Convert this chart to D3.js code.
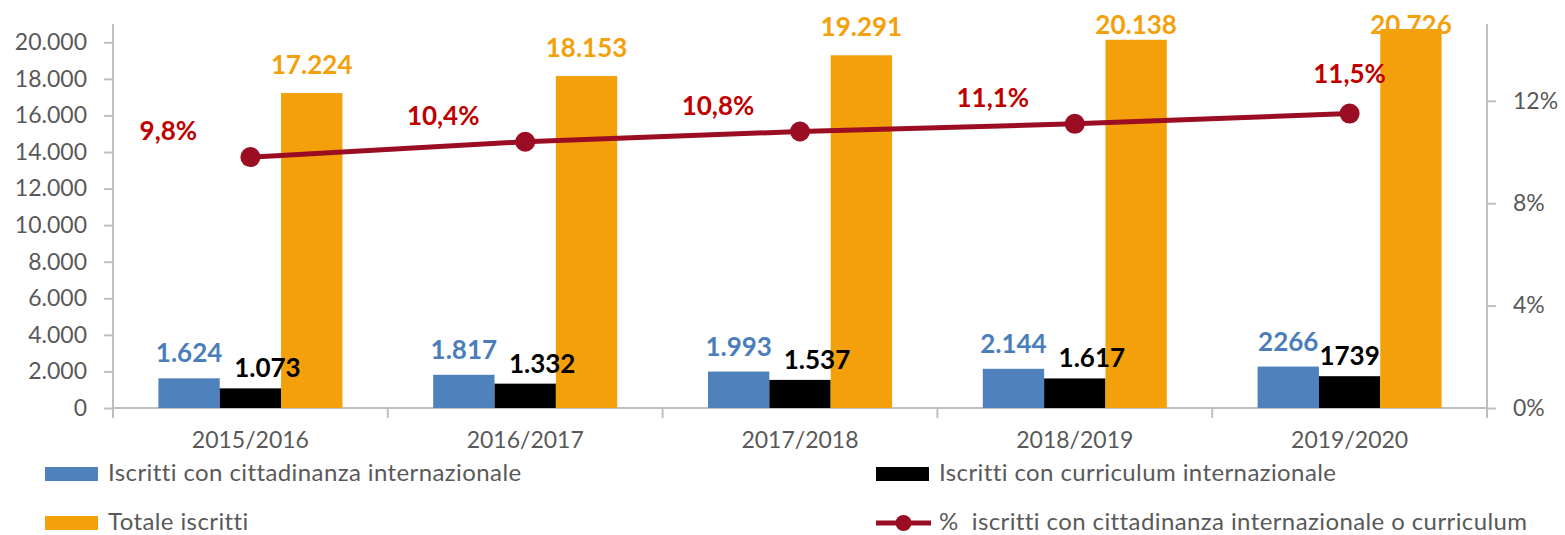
<!DOCTYPE html>
<html lang="it">
<head>
<meta charset="UTF-8">
<title>Iscritti internazionali</title>
<script src="https://d3js.org/d3.v7.min.js"></script>
<style>
    body {margin: 0; background: #fff;}
    text {font-family: Lato, "Open Sans", sans-serif;}
</style>
</head>
<body>
<div id="chart"></div>
<script>
// Data
var years = ["2015/2016", "2016/2017", "2017/2018", "2018/2019", "2019/2020"];
var cittadinanza = [1624, 1817, 1993, 2144, 2266];
var curriculum = [1073, 1332, 1537, 1617, 1739];
var totale = [17224, 18153, 19291, 20138, 20726];
var percentuale = [9.8, 10.4, 10.8, 11.1, 11.5];
var cittadinanzaLabels = ["1.624", "1.817", "1.993", "2.144", "2266"];
var curriculumLabels = ["1.073", "1.332", "1.537", "1.617", "1739"];
var totaleLabels = ["17.224", "18.153", "19.291", "20.138", "20.726"];
var percentLabels = ["9,8%", "10,4%", "10,8%", "11,1%", "11,5%"];
var leftTicks = [0, 2000, 4000, 6000, 8000, 10000, 12000, 14000, 16000, 18000, 20000];
var rightTicks = [0, 4, 8, 12];

var width = 1565, height = 535;
var plotLeft = 113, plotRight = 1487, plotTop = 24, plotBottom = 408;
var axisColor = "#bfbfbf", textColor = "#595959";
var blue = "#4f81bd", orange = "#f4a00a", dark = "#000000", red = "#9b0d23", redText = "#c00000";

var svg = d3.select("#chart").append("svg")
    .attr("width", width)
    .attr("height", height);

// Scales
var x = d3.scaleBand().domain(years).range([plotLeft, plotRight]).padding(0);
var series = ["cittadinanza", "curriculum", "totale"];
var xInner = d3.scaleBand().domain(series).range([0, x.bandwidth()]).paddingInner(0).paddingOuter(0.74);
var y = d3.scaleLinear().domain([0, 21000]).range([plotBottom, plotTop]);
var y2 = d3.scaleLinear().domain([0, 15]).range([plotBottom, plotTop]);

// Left axis
var yAxis = d3.axisLeft(y).tickValues(leftTicks).tickSize(9).tickPadding(17)
    .tickFormat(function(d){ return d3.format(",")(d).replace(/,/g, "."); });
var gy = svg.append("g").attr("transform", "translate(" + plotLeft + ",0)").call(yAxis);

// Right axis
var y2Axis = d3.axisRight(y2).tickValues(rightTicks).tickSize(9).tickPadding(17)
    .tickFormat(function(d){ return d + "%"; });
var gy2 = svg.append("g").attr("transform", "translate(" + plotRight + ",0)").call(y2Axis);

// Bottom axis - ticks at category boundaries
var xAxis = d3.axisBottom(x).tickSize(0).tickPadding(24);
var gx = svg.append("g").attr("transform", "translate(0," + plotBottom + ")").call(xAxis);
var bounds = years.map(function(d){ return x(d); }).concat([plotRight]);
gx.selectAll(".bound").data(bounds).enter().append("line")
    .attr("class", "bound")
    .attr("x1", function(d){ return d; })
    .attr("x2", function(d){ return d; })
    .attr("y1", 0).attr("y2", 10);

[gy, gy2, gx].forEach(function(g){
    g.select(".domain").attr("stroke", axisColor).attr("stroke-width", 2);
    g.selectAll("line").attr("stroke", axisColor).attr("stroke-width", 2);
    g.selectAll("text").attr("fill", textColor).attr("font-size", "23px");
});
gy.select(".domain").attr("d", "M0," + plotTop + "V" + plotBottom);
gy2.select(".domain").attr("d", "M0," + plotTop + "V" + (plotBottom + 10));
gx.select(".domain").attr("d", "M" + plotLeft + ",0H" + plotRight);

// Bars
function drawBars(values, key, color){
    svg.append("g").selectAll("rect")
        .data(values)
        .enter().append("rect")
            .attr("x", function(d, i){ return x(years[i]) + xInner(key); })
            .attr("y", function(d){ return y(d); })
            .attr("width", xInner.bandwidth())
            .attr("height", function(d){ return plotBottom - y(d); })
            .attr("fill", color);
}
drawBars(cittadinanza, "cittadinanza", blue);
drawBars(curriculum, "curriculum", dark);
drawBars(totale, "totale", orange);

// Bar value labels
function drawBarLabels(values, labels, key, color, dx, gap){
    svg.append("g").selectAll("text")
        .data(values)
        .enter().append("text")
            .attr("x", function(d, i){
                var shift = labels[i].indexOf(".") >= 0 ? dx : 0;
                return x(years[i]) + xInner(key) + xInner.bandwidth() / 2 + shift;
            })
            .attr("y", function(d){ return Math.max(y(d) - gap, 34); })
            .attr("text-anchor", "middle")
            .attr("font-size", "26px")
            .attr("font-weight", "bold")
            .attr("fill", color)
            .text(function(d, i){ return labels[i]; });
}
drawBarLabels(cittadinanza, cittadinanzaLabels, "cittadinanza", "#4a7ebb", 0, 16);
drawBarLabels(curriculum, curriculumLabels, "curriculum", dark, 17, 11);
drawBarLabels(totale, totaleLabels, "totale", orange, 0, 19);

// Percentage line
var line = d3.line()
    .x(function(d, i){ return x(years[i]) + x.bandwidth() / 2; })
    .y(function(d){ return y2(d); });

svg.append("path")
    .datum(percentuale)
    .attr("d", line)
    .attr("fill", "none")
    .attr("stroke", red)
    .attr("stroke-width", 5);

svg.append("g").selectAll("circle")
    .data(percentuale)
    .enter().append("circle")
        .attr("cx", function(d, i){ return x(years[i]) + x.bandwidth() / 2; })
        .attr("cy", function(d){ return y2(d); })
        .attr("r", 10)
        .attr("fill", red);

// Percentage labels: left of point, last one above
svg.append("g").selectAll("text")
    .data(percentuale)
    .enter().append("text")
        .attr("x", function(d, i){
            var cx = x(years[i]) + x.bandwidth() / 2;
            return i < percentuale.length - 1 ? cx - 82 : cx;
        })
        .attr("y", function(d, i){
            return i < percentuale.length - 1 ? y2(d) - 17 : y2(d) - 31;
        })
        .attr("text-anchor", "middle")
        .attr("font-size", "26px")
        .attr("font-weight", "bold")
        .attr("fill", redText)
        .text(function(d, i){ return percentLabels[i]; });

// Legend
var legendItems = [
    {label: "Iscritti con cittadinanza internazionale", color: blue, type: "rect", x: 45, y: 474},
    {label: "Iscritti con curriculum internazionale", color: dark, type: "rect", x: 876, y: 474},
    {label: "Totale iscritti", color: orange, type: "rect", x: 45, y: 523},
    {label: "%  iscritti con cittadinanza internazionale o curriculum", color: red, type: "line", x: 876, y: 523}
];
var legend = svg.append("g").selectAll("g")
    .data(legendItems)
    .enter().append("g")
        .attr("transform", function(d){ return "translate(" + d.x + "," + d.y + ")"; });

legend.filter(function(d){ return d.type === "rect"; })
    .append("rect")
        .attr("x", 0).attr("y", -7)
        .attr("width", 53).attr("height", 14)
        .attr("fill", function(d){ return d.color; });

var lineItems = legend.filter(function(d){ return d.type === "line"; });
lineItems.append("line")
    .attr("x1", 0).attr("x2", 55).attr("y1", 0).attr("y2", 0)
    .attr("stroke", red).attr("stroke-width", 5);
lineItems.append("circle")
    .attr("cx", 27.5).attr("cy", 0).attr("r", 8).attr("fill", red);

legend.append("text")
    .attr("x", 63)
    .attr("y", 7)
    .attr("font-size", "24px")
    .attr("letter-spacing", "0.4px")
    .attr("fill", textColor)
    .style("white-space", "pre")
    .text(function(d){ return d.label; });
</script>
</body>
</html>
